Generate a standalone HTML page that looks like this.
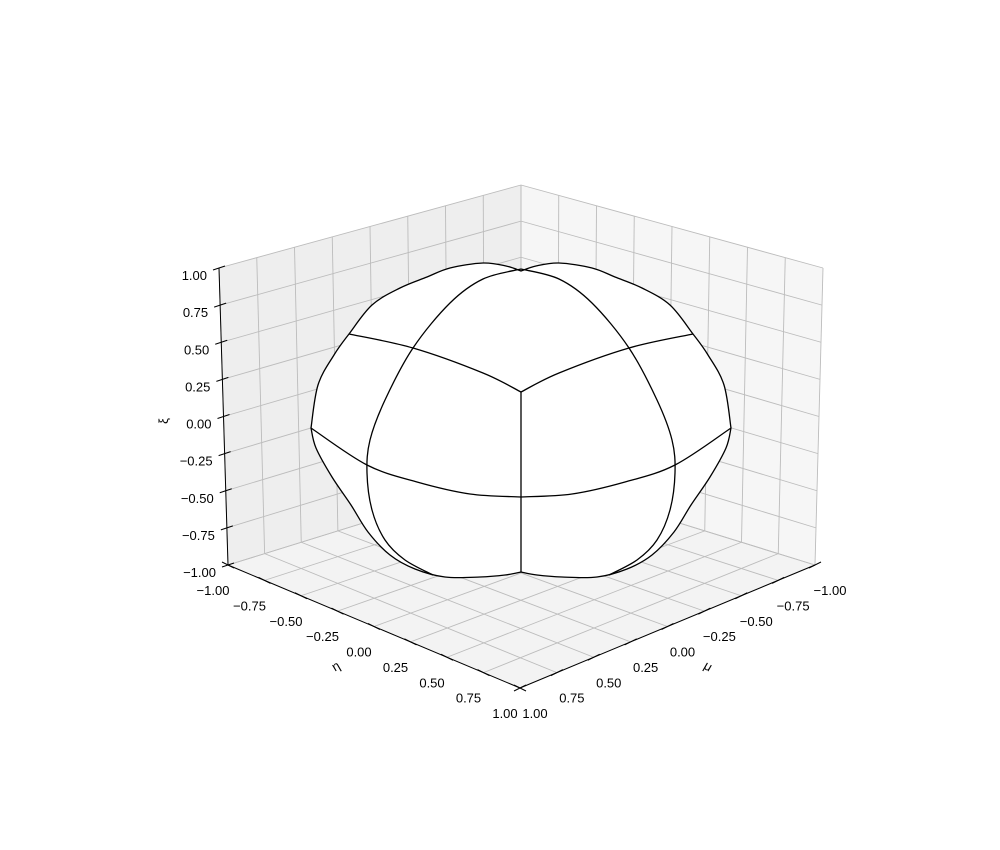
<!DOCTYPE html>
<html><head><meta charset="utf-8"><style>
html,body{margin:0;padding:0;background:#fff}
svg{display:block;font-family:"Liberation Sans","DejaVu Sans",sans-serif}
</style></head><body>
<svg id="chart" width="1000" height="850" viewBox="0 0 1000 850" xmlns="http://www.w3.org/2000/svg">
<g id="panes"></g><g id="grid"></g><g id="surface"></g><g id="axes"></g>
</svg>
<script>
const muTicks=[-1,-0.75,-0.5,-0.25,0,0.25,0.5,0.75,1];
const etaTicks=[-1,-0.75,-0.5,-0.25,0,0.25,0.5,0.75,1];
const xiTicks=[-1,-0.75,-0.5,-0.25,0,0.25,0.5,0.75,1];
const tickLabels=["\u22121.00","\u22120.75","\u22120.50","\u22120.25","0.00","0.25","0.50","0.75","1.00"];
// silhouette points (left half, screen) of surface
const silTop=[[311,428],[318,385],[334,355],[349,334],[372,305],[400,288],[427,277],[450,268],[483,263],[506,266],[521,271]];
const silBot=[[311,428],[316,448],[332,477],[351,505],[368,532],[390,555],[415,569],[445,577],[480,577],[505,575],[521,572]];
const ellipseL=[[521,269],[483,279],[450,303],[413,348],[385,400],[370,440],[367,473],[372,510],[385,540],[405,560],[433,575]];
const ridgeL=[[349,334],[413,348],[483,373],[521,392]];
const equatorL=[[311,428],[367,465],[417,482],[470,494],[521,497]];

const NS="http://www.w3.org/2000/svg";
const C={"1,1,-1":[520,688],"-1,1,-1":[815,565],"1,-1,-1":[228,565],"-1,-1,-1":[521,474],
"1,1,1":[520,378],"-1,1,1":[823,268],"1,-1,1":[219,268],"-1,-1,1":[521,185]};
function P(mu,eta,xi){
 const a=(mu+1)/2,b=(eta+1)/2,c=(xi+1)/2;let x=0,y=0;
 for(const m of [-1,1])for(const e of [-1,1])for(const z of [-1,1]){
  const w=(m>0?a:1-a)*(e>0?b:1-b)*(z>0?c:1-c);const p=C[m+","+e+","+z];x+=w*p[0];y+=w*p[1];}
 return [x,y];}
function el(tag,attrs,parent){const e=document.createElementNS(NS,tag);for(const k in attrs)e.setAttribute(k,attrs[k]);parent.appendChild(e);return e;}
const panes=document.getElementById('panes'),grid=document.getElementById('grid'),axes=document.getElementById('axes'),surf=document.getElementById('surface');
function poly(pts){return pts.map(p=>p.join(',')).join(' ');}
let pe=el('polygon',{points:poly([P(1,-1,-1),P(-1,-1,-1),P(-1,-1,1),P(1,-1,1)]),fill:'#eeeeee'},panes);


let pm=el('polygon',{points:poly([P(-1,1,-1),P(-1,-1,-1),P(-1,-1,1),P(-1,1,1)]),fill:'#f6f6f6'},panes);


let pf=el('polygon',{points:poly([P(1,1,-1),P(1,-1,-1),P(-1,-1,-1),P(-1,1,-1)]),fill:'#f3f3f3'},panes);


function line(a,b,st,w,parent,name){const l=el('line',{x1:a[0],y1:a[1],x2:b[0],y2:b[1],stroke:st,'stroke-width':w},parent);
 
 return l;}
const gc='#bcbcbc';
muTicks.forEach(m=>{line(P(m,-1,-1),P(m,1,-1),gc,0.9,grid,'gridline-mu-floor');line(P(m,-1,-1),P(m,-1,1),gc,0.9,grid,'gridline-mu-wall');});
etaTicks.forEach(e=>{line(P(1,e,-1),P(-1,e,-1),gc,0.9,grid,'gridline-eta-floor');line(P(-1,e,-1),P(-1,e,1),gc,0.9,grid,'gridline-eta-wall');});
xiTicks.forEach(z=>{line(P(1,-1,z),P(-1,-1,z),gc,0.9,grid,'gridline-xi-left');line(P(-1,-1,z),P(-1,1,z),gc,0.9,grid,'gridline-xi-right');});
const mx=521;
function mir(pts){return pts.map(p=>[2*mx-p[0],p[1]]);}
function smooth(pts){let d='M'+pts[0].join(',');for(let i=1;i<pts.length;i++){const p0=pts[Math.max(0,i-2)],p1=pts[i-1],p2=pts[i],p3=pts[Math.min(pts.length-1,i+1)];
 const c1=[p1[0]+(p2[0]-p0[0])/6,p1[1]+(p2[1]-p0[1])/6],c2=[p2[0]-(p3[0]-p1[0])/6,p2[1]-(p3[1]-p1[1])/6];
 d+=' C'+c1.join(',')+' '+c2.join(',')+' '+p2.join(',');}return d;}
let fillPath=smooth(silTop)+' '+smooth(mir(silTop).reverse()).replace('M','L')+' '+smooth(mir(silBot)).replace('M','L')+' '+smooth(silBot.slice().reverse()).replace('M','L')+'Z';
let f=el('path',{d:fillPath,fill:'#fff',stroke:'#000','stroke-width':1.3},surf);


[[ellipseL,'meridian-left'],[mir(ellipseL),'meridian-right'],[ridgeL,'ridge-left'],[mir(ridgeL),'ridge-right'],[equatorL,'equator-left'],[mir(equatorL),'equator-right']].forEach(([pts,n])=>{
 const p=el('path',{d:smooth(pts),fill:'none',stroke:'#000','stroke-width':1.3},surf);
 
 });
line([521,392],[521,572],'#000',1.3,surf,'front-ridge');
line(P(1,-1,-1),P(1,-1,1),'#000',1,axes,'xi-axis-line');
line(P(1,-1,-1),P(1,1,-1),'#000',1,axes,'eta-axis-line');
line(P(-1,1,-1),P(1,1,-1),'#000',1,axes,'mu-axis-line');
function txt(x,y,s,anchor,name,rot){const t=el('text',{x:x,y:y,'font-size':13,'text-anchor':anchor,fill:'#000'},axes);t.textContent=s;
 if(rot!==undefined)t.setAttribute('transform','rotate('+rot+' '+x+' '+y+')');
 
 return t;}
xiTicks.forEach((z,i)=>{const p=P(1,-1,z);line([p[0]-6,p[1]+2],[p[0]+6,p[1]-2],'#000',1,axes,'xi-tick');txt(p[0]-12,p[1]+12,tickLabels[i],'end','xi-tick-label');});
etaTicks.forEach((e,i)=>{const p=P(1,e,-1);line([p[0]-6,p[1]-3],[p[0]+6,p[1]+3],'#000',1,axes,'eta-tick');txt(p[0]-15,p[1]+30,tickLabels[i],'middle','eta-tick-label');});
muTicks.forEach((m,i)=>{const p=P(m,1,-1);line([p[0]-6,p[1]+3],[p[0]+6,p[1]-3],'#000',1,axes,'mu-tick');txt(p[0]+15,p[1]+30,tickLabels[i],'middle','mu-tick-label');});
txt(168,421,'\u03be','middle','xi-axis-title',-90);
txt(338,670,'\u03b7','middle','eta-axis-title',-30);
txt(706,670,'\u03bc','middle','mu-axis-title',30);
</script>
</body></html>
